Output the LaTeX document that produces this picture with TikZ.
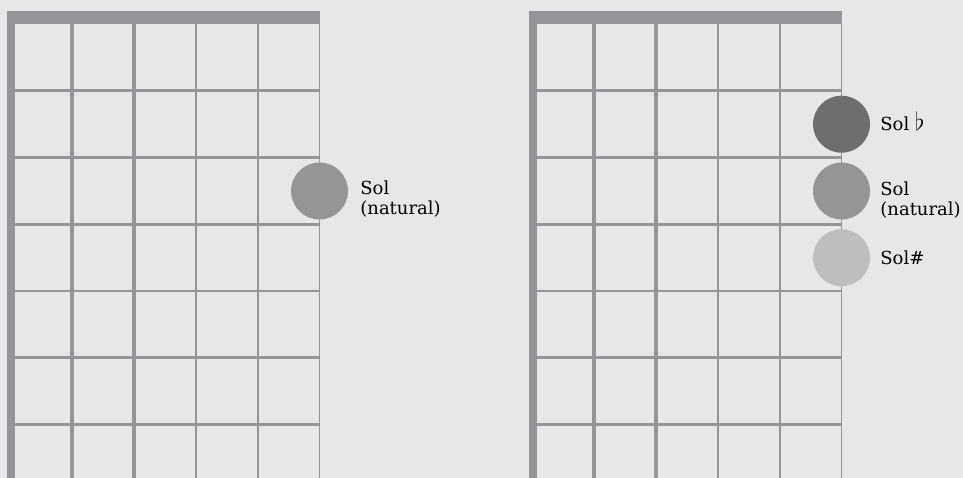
\documentclass[tikz,border=0pt]{standalone}
\usepackage{fontspec}
\setmainfont{DejaVu Serif}
\usepackage{tikz}
\usetikzlibrary{positioning}
\definecolor{boardbg}{HTML}{E6E7E8}
\definecolor{fretgray}{HTML}{939598}
\definecolor{flatdot}{HTML}{6D6E70}
\definecolor{naturaldot}{HTML}{949597}
\definecolor{sharpdot}{HTML}{BCBEC0}

\tikzset{
  notedot/.style={circle,inner sep=0pt,minimum size=57pt},
  notelabel/.style={inner sep=0pt,align=left,font=\fontsize{18}{19.5}\selectfont}
}

\begin{document}
\begin{tikzpicture}[x=1pt,y=-1pt]

\useasboundingbox (0,0) rectangle (963,478);
\fill[boardbg] (0,0) rectangle (963,478);

\foreach \ox in {0,522}{
  \foreach \y in {90.7,157.7,224.3,291,357.7,424.3}
    \draw[fretgray,line width=2.6pt] (\ox+15,\y) -- (\ox+320,\y);
  \foreach \x/\w in {72/4.5,134/3.5,196/2.6,258/1.9,319.5/1.3}
    \draw[fretgray,line width=\w pt] (\ox+\x,24) -- (\ox+\x,478);
  \fill[fretgray] (\ox+7,10.7) rectangle (\ox+320,24);
  \fill[fretgray] (\ox+7,10.7) rectangle (\ox+15,478);
}

\node[notedot,fill=naturaldot] (leftnat) at (319.5,191) {};
\node[notelabel,right=12pt of leftnat,yshift=-8pt] (leftnatlabel) {Sol\\(natural)};

\node[notedot,fill=flatdot] (rightflat) at (841.5,124.2) {};
\node[notedot,fill=naturaldot] (rightnat) at (841.5,191) {};
\node[notedot,fill=sharpdot] (rightsharp) at (841.5,257.7) {};
\node[notelabel,right=10pt of rightflat,yshift=2.5pt] (rightflatlabel)
      {Sol {\fontsize{28}{28}\selectfont$\flat$}};
\node[notelabel,right=10pt of rightnat,yshift=-9pt] (rightnatlabel) {Sol\\(natural)};
\node[notelabel,right=10pt of rightsharp] (rightsharplabel) {Sol\#};

\end{tikzpicture}
\end{document}
